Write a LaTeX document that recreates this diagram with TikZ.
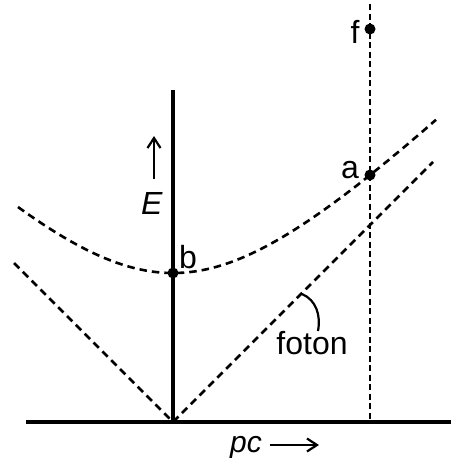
\documentclass[tikz,border=0pt]{standalone}
\usepackage{fontspec}
\setmainfont{Liberation Sans}
\usetikzlibrary{arrows.meta}
\begin{document}
\begin{tikzpicture}[x=1pt,y=-1pt,
  axis/.style={line width=4pt},
  curve/.style={line width=2.6pt, dash pattern=on 7.5pt off 5pt},
  vdash/.style={line width=2.4pt, dash pattern=on 6pt off 3.5pt},
  dot/.style={circle, fill=black, inner sep=0pt, minimum size=11pt},
  lbl/.style={font=\fontsize{32}{34}\selectfont, inner sep=0pt, anchor=base},
  arr/.style={line width=2.2pt, -{Straight Barb[length=10pt,width=13pt]}},
]
\useasboundingbox (0,0) rectangle (451,458);
% coordinates
\coordinate (O) at (173,422);
\coordinate (axL) at (26,422);
\coordinate (axR) at (451,422);
\coordinate (axT) at (173,90);
\coordinate (vL) at (14,263);
\coordinate (vR) at (433,162);
\coordinate (ftop) at (370,4);
\coordinate (fbot) at (370,422);
% dashed V (photon lines)
\draw[curve] (vL) -- (O) -- (vR);
% hyperbola
\draw[curve, domain=18:436, samples=90, smooth]
  plot (\x, {422-10*veclen(14.9,(\x-173)/10)});
% vertical dashed line
\draw[vdash] (ftop) -- (fbot);
% axes
\draw[axis] (axL) -- (axR);
\draw[axis] (axT) -- (O);
% points
\node[dot] (b) at (173,273) {};
\node[dot] (a) at (370,175) {};
\node[dot] (f) at (370,29) {};
% labels
\node[lbl] (lb) at (188,268) {b};
\node[lbl] (la) at (350,178) {a};
\node[lbl] (lf) at (355,43) {f};
\node[lbl] (lE) at (152,214) {\textit{E}};
\coordinate (Ea) at (154,179);
\coordinate (Eb) at (154,136);
\draw[arr] (Ea) -- (Eb);
% photon label
\node[lbl] (foton) at (312,354) {foton};
\coordinate (fs) at (302,294);
\draw[line width=2.2pt] (fs) .. controls (316,300) and (321,315) .. (318,331);
% pc label
\node[lbl, font=\fontsize{30}{32}\selectfont] (pc) at (246,452) {\textit{pc}};
\coordinate (pa) at (270,445);
\coordinate (pb) at (319,445);
\draw[arr] (pa) -- (pb);
\end{tikzpicture}
\end{document}
